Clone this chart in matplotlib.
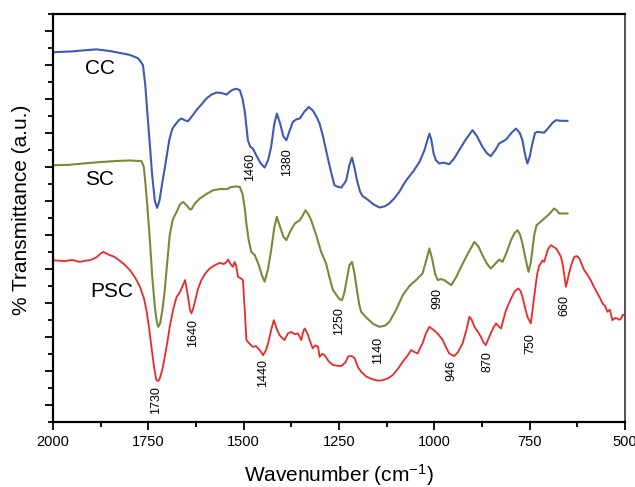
import matplotlib
matplotlib.use('Agg')
import matplotlib.pyplot as plt
from matplotlib.ticker import MultipleLocator

plt.rcParams['font.family'] = ['Liberation Sans', 'DejaVu Sans']
plt.rcParams['mathtext.default'] = 'regular'

# FTIR spectra, wavenumber (cm-1) vs transmittance (arbitrary offset units)
cc_wn = [2000, 1950, 1910, 1886, 1850, 1800, 1778, 1770, 1764, 1758, 1752, 1746, 1740, 1733,
         1727, 1721, 1714, 1707, 1695, 1688, 1681, 1670, 1663, 1655, 1646, 1635, 1624, 1610,
         1598, 1585, 1571, 1558, 1545, 1535, 1528, 1518, 1510, 1503, 1497, 1492, 1489, 1483,
         1476, 1465, 1455, 1445, 1436, 1428, 1420, 1413, 1405, 1396, 1388, 1380, 1371, 1362,
         1353, 1341, 1329, 1318, 1308, 1301, 1292, 1284, 1272, 1262, 1252, 1244, 1237, 1231,
         1223, 1216, 1210, 1203, 1195, 1188, 1175, 1160, 1144, 1130, 1118, 1105, 1092, 1080,
         1070, 1055, 1039, 1026, 1018, 1013, 1008, 1002, 996, 987, 975, 961, 948, 935, 918,
         900, 888, 874, 862, 852, 840, 830, 812, 798, 786, 776, 769, 762, 756, 750, 743, 736,
         730, 712, 699, 690, 681, 670, 651]
cc_t = [21.75, 21.80, 21.88, 21.92, 21.82, 21.60, 21.41, 21.20, 20.98, 19.80, 18.00, 16.28,
        14.50, 13.00, 12.59, 13.00, 14.00, 14.92, 16.60, 17.20, 17.45, 17.75, 17.85, 17.75,
        17.69, 18.00, 18.34, 18.70, 19.02, 19.25, 19.38, 19.35, 19.26, 19.45, 19.55, 19.60,
        19.51, 19.00, 18.24, 17.20, 16.57, 16.20, 16.08, 15.60, 15.20, 14.96, 15.40, 16.18,
        17.50, 18.14, 17.60, 16.80, 16.57, 17.10, 17.65, 17.80, 17.85, 18.25, 18.53, 18.30,
        17.90, 17.55, 16.80, 15.98, 14.80, 13.92, 13.82, 13.79, 14.00, 14.22, 15.10, 15.55,
        15.00, 14.22, 13.55, 13.28, 13.08, 12.80, 12.61, 12.68, 12.85, 13.15, 13.53, 14.00,
        14.32, 14.75, 15.29, 15.98, 16.60, 16.96, 16.60, 15.80, 15.39, 15.20, 15.25, 15.16,
        15.50, 15.98, 16.60, 17.16, 16.80, 16.18, 15.80, 15.63, 16.00, 16.38, 16.61, 17.00,
        17.26, 17.00, 16.57, 15.70, 15.20, 15.60, 16.38, 17.00, 17.06, 17.02, 17.35, 17.60,
        17.75, 17.72, 17.71]

sc_wn = [2000, 1960, 1921, 1880, 1833, 1800, 1768, 1762, 1759, 1753, 1746, 1740, 1733, 1728,
         1724, 1719, 1713, 1707, 1700, 1694, 1686, 1676, 1667, 1659, 1648, 1641, 1637, 1628,
         1615, 1598, 1580, 1560, 1545, 1532, 1520, 1510, 1503, 1497, 1493, 1487, 1480, 1471,
         1460, 1452, 1445, 1436, 1428, 1420, 1413, 1405, 1396, 1388, 1378, 1366, 1353, 1345,
         1338, 1330, 1323, 1310, 1297, 1284, 1275, 1266, 1255, 1248, 1242, 1236, 1230, 1223,
         1216, 1210, 1203, 1197, 1192, 1179, 1160, 1144, 1130, 1118, 1100, 1083, 1065, 1048,
         1031, 1020, 1013, 1006, 998, 991, 983, 974, 956, 943, 930, 912, 895, 884, 874, 862,
         852, 840, 830, 821, 810, 799, 790, 782, 775, 769, 761, 753, 747, 743, 738, 732, 720,
         712, 700, 686, 679, 673, 651]
sc_t = [15.10, 15.12, 15.20, 15.28, 15.35, 15.38, 15.34, 15.00, 14.34, 12.80, 10.69, 8.60,
        6.76, 5.90, 5.59, 5.80, 6.60, 7.75, 9.50, 10.98, 11.90, 12.35, 12.80, 12.94, 12.70,
        12.50, 12.51, 12.85, 13.14, 13.40, 13.63, 13.70, 13.69, 13.82, 13.85, 13.82, 13.40,
        12.55, 11.67, 10.70, 10.00, 9.81, 9.20, 8.60, 8.24, 9.00, 10.10, 11.40, 12.06, 11.50,
        10.90, 10.69, 11.20, 11.67, 11.86, 12.15, 12.45, 12.20, 11.86, 11.00, 10.00, 9.32,
        8.50, 7.75, 7.40, 7.20, 7.16, 7.60, 8.34, 9.20, 9.41, 8.80, 7.75, 6.90, 6.47, 6.14,
        5.75, 5.59, 5.65, 5.88, 6.60, 7.45, 8.00, 8.34, 8.73, 9.60, 10.20, 9.60, 8.70, 8.34,
        8.40, 8.34, 8.04, 8.50, 9.12, 9.90, 10.59, 10.30, 9.81, 9.30, 9.02, 9.30, 9.55, 9.41,
        10.00, 10.69, 11.10, 11.28, 11.00, 10.49, 9.60, 8.82, 9.40, 10.10, 11.00, 11.57, 11.80,
        11.96, 12.20, 12.55, 12.45, 12.26, 12.26]

psc_wn = [2000, 1985, 1969, 1958, 1948, 1938, 1929, 1915, 1903, 1893, 1885, 1875, 1868, 1860,
          1850, 1840, 1833, 1815, 1798, 1785, 1772, 1762, 1755, 1748, 1742, 1735, 1729, 1724,
          1720, 1713, 1707, 1700, 1694, 1685, 1676, 1668, 1663, 1658, 1654, 1650, 1646, 1641,
          1637, 1632, 1628, 1620, 1611, 1600, 1589, 1577, 1563, 1552, 1545, 1541, 1535, 1528,
          1524, 1520, 1515, 1508, 1502, 1497, 1493, 1485, 1476, 1468, 1458, 1449, 1442, 1436,
          1428, 1421, 1414, 1406, 1400, 1393, 1384, 1375, 1366, 1358, 1349, 1344, 1340, 1333,
          1327, 1319, 1312, 1305, 1301, 1294, 1288, 1277, 1266, 1255, 1244, 1233, 1226, 1222,
          1215, 1209, 1200, 1192, 1178, 1161, 1148, 1135, 1122, 1109, 1096, 1083, 1070, 1061,
          1052, 1044, 1038, 1031, 1022, 1013, 1005, 996, 988, 978, 970, 961, 948, 938, 926,
          916, 908, 902, 895, 886, 878, 872, 865, 858, 852, 845, 838, 831, 825, 818, 812, 800,
          790, 780, 774, 769, 762, 756, 747, 743, 738, 734, 730, 725, 721, 716, 712, 707, 703,
          698, 694, 688, 681, 675, 668, 663, 660, 655, 651, 647, 640, 633, 626, 620, 614, 607,
          600, 590, 583, 572, 566, 559, 552, 546, 540, 533, 527, 520, 515, 510, 506, 502]
psc_t = [9.51, 9.48, 9.45, 9.50, 9.52, 9.45, 9.41, 9.48, 9.51, 9.60, 9.70, 9.90, 10.00, 9.90,
         9.80, 9.72, 9.61, 9.30, 8.92, 8.50, 7.94, 7.30, 6.57, 5.50, 4.41, 3.20, 2.45, 2.40,
         2.55, 3.10, 3.82, 4.70, 5.59, 6.60, 7.35, 7.60, 7.85, 8.10, 8.34, 7.90, 7.35, 6.60,
         6.38, 6.70, 7.06, 7.80, 8.34, 8.75, 9.02, 9.20, 9.35, 9.28, 9.41, 9.55, 9.30, 9.12,
         9.40, 9.20, 8.53, 8.45, 8.34, 6.50, 4.81, 4.60, 4.41, 4.45, 4.22, 3.92, 4.20, 4.61,
         5.40, 5.98, 5.50, 5.10, 4.95, 4.81, 5.20, 5.29, 5.15, 5.20, 4.81, 5.30, 5.49, 5.20,
         4.81, 4.32, 4.50, 4.41, 3.82, 4.00, 3.92, 3.55, 3.34, 3.30, 3.28, 3.50, 3.85, 3.86,
         3.85, 3.73, 3.20, 2.94, 2.65, 2.49, 2.42, 2.45, 2.55, 2.75, 3.10, 3.53, 3.90, 4.22,
         4.10, 4.02, 4.30, 4.61, 5.20, 5.59, 5.45, 5.29, 5.10, 4.81, 4.40, 4.02, 3.86, 4.10,
         4.61, 5.40, 6.18, 6.00, 5.59, 5.30, 5.00, 4.70, 4.51, 4.90, 5.20, 5.55, 5.79, 5.60,
         5.49, 6.10, 6.57, 7.20, 7.65, 7.85, 7.70, 7.35, 6.70, 6.18, 5.79, 6.50, 7.35, 8.10,
         8.73, 9.20, 9.32, 9.50, 9.41, 9.80, 10.10, 10.30, 10.39, 10.30, 10.20, 10.00, 9.71,
         9.20, 8.73, 7.94, 8.30, 8.73, 9.30, 9.71, 9.75, 9.61, 9.30, 8.92, 8.70, 8.34, 8.00,
         7.55, 7.30, 6.96, 6.80, 6.47, 6.60, 5.98, 6.10, 6.08, 6.00, 6.08, 6.30, 6.28]

# peak assignments: (label, x, y)
peaks = [('1460', 1484, 15.0), ('1380', 1387, 15.29), ('1730', 1730, 1.28),
         ('1640', 1634, 5.2), ('1440', 1449, 2.88), ('1250', 1249, 5.94),
         ('1140', 1148, 4.22), ('990', 991, 7.26), ('946', 956, 3.04),
         ('870', 860, 3.53), ('750', 747, 4.61), ('660', 660, 6.86)]

fig = plt.figure(figsize=(6.35, 4.87), dpi=100)
ax = fig.add_axes([0.0835, 0.134, 0.9008, 0.8372])

ax.plot(cc_wn, cc_t, color='#3f5ab5', lw=1.5)
ax.plot(sc_wn, sc_t, color='#7a8a3a', lw=1.5)
ax.plot(psc_wn, psc_t, color='#ee2828', lw=1.3)

ax.text(1877, 20.79, 'CC', fontsize=15, ha='center', va='center')
ax.text(1879, 14.28, 'SC', fontsize=15, ha='center', va='center')
ax.text(1846, 7.65, 'PSC', fontsize=15, ha='center', va='center')

for lab, x, y in peaks:
    ax.text(x, y, lab, rotation=90, fontsize=9, ha='center', va='center')

ax.set_xlim(2000, 500)
ax.set_ylim(0, 24)
ax.xaxis.set_major_locator(MultipleLocator(250))
ax.xaxis.set_minor_locator(MultipleLocator(125))
ax.set_yticks(range(1, 24, 2))
ax.set_yticks(range(0, 25, 2), minor=True)
ax.set_yticklabels([])

ax.tick_params(which='both', direction='out', width=1.3, top=False, right=False)
ax.tick_params(which='major', length=6, labelsize=10.5)
ax.tick_params(which='minor', length=3.5)
for side in ['left', 'bottom', 'top']:
    ax.spines[side].set_linewidth(1.6)
ax.spines['right'].set_linewidth(1.3)
ax.spines['right'].set_color('#444444')

ax.set_xlabel('Wavenumber (cm$^{-1}$)', fontsize=15)
ax.set_ylabel('% Transmittance (a.u.)', fontsize=15)
ax.xaxis.set_label_coords(0.5, -0.1)
ax.yaxis.set_label_coords(-0.038, 0.52)

fig.savefig('out.png', dpi=100)
